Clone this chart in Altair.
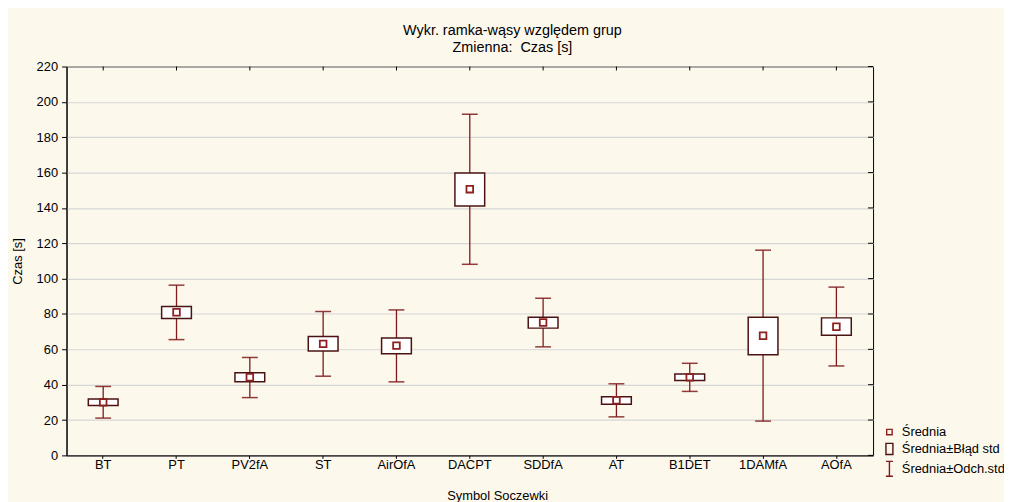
import altair as alt
import pandas as pd

# ---- data ----
categories = ["BT", "PT", "PV2fA", "ST", "AirOfA", "DACPT", "SDDfA", "AT", "B1DET", "1DAMfA", "AOfA"]
means = [30.0, 81.0, 44.2, 63.1, 62.1, 150.6, 75.2, 31.2, 44.2, 67.7, 72.8]
se_low = [28.2, 77.5, 41.6, 59.0, 57.5, 141.1, 72.0, 28.9, 42.4, 56.9, 67.9]
se_high = [31.9, 84.2, 46.7, 67.2, 66.4, 159.7, 78.2, 33.2, 46.1, 78.2, 77.8]
sd_low = [21.1, 65.5, 32.7, 44.8, 41.6, 108.1, 61.4, 21.8, 36.2, 19.4, 50.6]
sd_high = [39.0, 96.3, 55.4, 81.4, 82.3, 193.0, 88.9, 40.5, 52.1, 116.1, 95.2]
y_ticks = [0, 20, 40, 60, 80, 100, 120, 140, 160, 180, 200, 220]
legend_labels = ["Średnia", "Średnia±Błąd std", "Średnia±Odch.std"]

df = pd.DataFrame({
    "cat": categories, "mean": means,
    "se_lo": se_low, "se_hi": se_high,
    "sd_lo": sd_low, "sd_hi": sd_high,
})

W, H = 813, 392
FONT = "Liberation Sans"
RED = "#8E2020"
DARK = "#4A1212"
WHISK = "#7E1A1A"

xscale = alt.Scale(paddingInner=0, paddingOuter=0)
xaxis = alt.Axis(title="Symbol Soczewki", labelAngle=0, grid=False, tickSize=3,
                 labelPadding=0, titleX=434, titleY=40, titleBaseline="middle")
yscale = alt.Scale(domain=[0, 220], nice=False, zero=True)
yaxis = alt.Axis(title="Czas [s]", values=y_ticks, grid=True, tickSize=5, labelPadding=4,
                 titleX=-49, titleY=H / 2, titleBaseline="middle", titleAngle=270)


def xe():
    return alt.X("cat:N", sort=categories, scale=xscale, axis=xaxis)


def ye(field):
    return alt.Y(f"{field}:Q", scale=yscale, axis=yaxis)


base = alt.Chart(df)

whisker = base.mark_rule(color=WHISK, strokeWidth=1.3).encode(
    x=xe(), y=ye("sd_lo"), y2="sd_hi:Q")
cap_lo = base.mark_tick(color=WHISK, size=16, thickness=1.5, opacity=0.85).encode(
    x=xe(), y=ye("sd_lo"))
cap_hi = base.mark_tick(color=WHISK, size=16, thickness=1.5, opacity=0.85).encode(
    x=xe(), y=ye("sd_hi"))
box = base.mark_bar(size=30, fill="white", stroke=DARK, strokeWidth=1.5).encode(
    x=xe(), y=ye("se_lo"), y2="se_hi:Q")
mean_pt = base.mark_point(shape="square", size=45, filled=False, color=RED, strokeWidth=1.8, opacity=1).encode(
    x=xe(), y=ye("mean"))

top_ticks = base.mark_rule(color="black", strokeWidth=1).encode(
    x=xe(), y=alt.value(0), y2=alt.value(4))
right_ticks = alt.Chart(pd.DataFrame({"v": y_ticks})).mark_rule(color="black", strokeWidth=1).encode(
    y=ye("v"), x=alt.value(W - 5), x2=alt.value(W))

leg_df = pd.DataFrame({"k": legend_labels})
leg_common = dict(orient="none", legendX=821, legendY=362, title=None, symbolOpacity=1,
                  symbolStrokeWidth=1.4, labelFont=FONT, labelFontSize=13, labelColor="black",
                  rowPadding=1, labelOffset=4, padding=0)
legend_layer = alt.Chart(leg_df).mark_point(filled=False, opacity=0).encode(
    shape=alt.Shape("k:N", sort=legend_labels, scale=alt.Scale(
        domain=legend_labels,
        range=["square",
               "M-0.62,-1L0.62,-1L0.62,1L-0.62,1Z",
               "M-0.47,-1L0.47,-1M0,-1L0,1M-0.47,1L0.47,1"]),
        legend=alt.Legend(**leg_common)),
    color=alt.Color("k:N", sort=legend_labels, scale=alt.Scale(domain=legend_labels, range=[RED, DARK, WHISK]),
                    legend=alt.Legend(**leg_common)),
    size=alt.Size("k:N", sort=legend_labels, scale=alt.Scale(domain=legend_labels, range=[30, 225, 225]),
                  legend=alt.Legend(**leg_common)),
)

chart = alt.layer(
    whisker, cap_lo, cap_hi, box, mean_pt, top_ticks, right_ticks, legend_layer
).properties(
    width=W, height=H,
    autosize=alt.AutoSizeParams(type="none"),
    padding={"left": 59, "top": 57, "right": 132, "bottom": 45},
    background="#FCF8EC",
    title=alt.TitleParams(
        ["Wykr. ramka-wąsy względem grup", "Zmienna:\u00a0 Czas [s]"],
        font=FONT, fontSize=14.5, fontWeight="normal", color="black",
        lineHeight=17, offset=5, anchor="middle", dx=43),
).configure_view(
    stroke="black", strokeWidth=1, fill="white"
).configure_axis(
    domainColor="black", domainWidth=1, tickColor="black", labelColor="black",
    labelFont=FONT, labelFontSize=13, titleFont=FONT, titleFontSize=13,
    titleFontWeight="normal", titleColor="black", gridColor="#D6D6D6", gridWidth=1.2,
)

chart.save("out.html", embed_options={"renderer": "svg", "actions": False})
